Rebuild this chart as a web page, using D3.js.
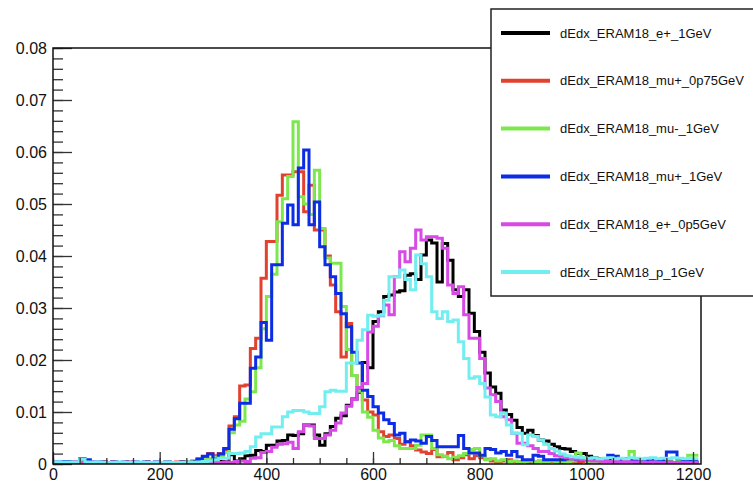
<!DOCTYPE html>
<html>
<head>
<meta charset="utf-8">
<script src="https://cdn.jsdelivr.net/npm/d3@7"></script>
<style>
  body { margin: 0; background: #fff; }
  text { font-family: "Liberation Sans", Arial, Helvetica, sans-serif; }
</style>
</head>
<body>
<div id="d3_chart"></div>
<script>
// bin contents in units of 1e-3, one value per 10-wide bin starting at 0
const binWidth = 10;

const eplus1GeV = [
  0, 0, 0, 0, 0, 0, 0.2, 0, 0, 0,
  0, 0.2, 0, 0, 0, 0, 0.3, 0, 0, 0,
  0, 0.2, 0, 0, 0.2, 0, 0, 0.3, 0, 0,
  0.2, 0.5, 0.4, 1.8, 0.6, 1.0, 1.6, 1.7, 2.6, 2.4,
  3.6, 3.6, 4.4, 4.5, 5.6, 5.5, 5.8, 7.5, 7.5, 5.6,
  3.6, 5.8, 7.2, 8.8, 9.3, 11.3, 12.5, 13.8, 19.5, 18.5,
  27.4, 29.3, 32.2, 32.5, 33.1, 33.3, 36.3, 36.6, 35.5, 40.2,
  43.1, 42.5, 35.0, 42.4, 39.2, 33.5, 32.2, 33.5, 29.0, 25.5,
  21.5, 17.5, 14.8, 13.6, 10.4, 9.5, 8.4, 7.0, 5.9, 6.5,
  5.5, 4.6, 4.4, 3.8, 3.3, 3.0, 2.9, 2.4, 2.0, 2.0,
  1.5, 1.2, 1.0, 1.0, 0.8, 0.8, 0.6, 1.0, 0.6, 0.5,
  0.5, 0.4, 0.5, 0.4, 0.3, 0.5, 0.3, 0.3, 0.4, 0.3, 0.3
];
const muplus0p75GeV = [
  0.3, 0.3, 0.5, 0.4, 0.3, 0.5, 0.4, 0.3, 0.3, 0.4,
  0.3, 0.4, 0.3, 0.3, 0.4, 0.3, 0.3, 0.4, 0.3, 0.3,
  0.3, 0.4, 0.3, 0.4, 0.5, 0.4, 0.6, 1.0, 1.4, 2.0,
  1.6, 2.0, 2.6, 7.3, 9.1, 15.0, 15.2, 22.2, 24.2, 35.7,
  42.8, 42.8, 51.7, 55.6, 55.6, 56.2, 56.2, 48.5, 53.6, 45.0,
  45.0, 40.0, 34.4, 29.3, 20.6, 27.0, 17.0, 14.5, 12.3, 10.0,
  9.4, 6.2, 5.3, 5.6, 4.9, 3.8, 4.3, 3.5, 2.7, 2.3,
  2.0, 2.8, 1.4, 1.5, 2.2, 0.8, 1.2, 1.8, 1.0, 1.6,
  1.2, 0.9, 0.6, 0.4, 0.6, 0.8, 0.5, 0.4, 0.6, 0.3,
  0.4, 0.6, 0.3, 0.5, 0.4, 0.3, 0.6, 0.4, 0.3, 0.5,
  0.3, 0.4, 0.3, 0.5, 0.4, 0.3, 0.6, 0.4, 0.7, 0.3,
  0.4, 0.3, 0.5, 0.3, 0.4, 0.3, 0.3, 0.4, 0.6, 0.3, 0.3
];
const muminus1GeV = [
  0.2, 0.3, 0.2, 0.3, 0.2, 0.3, 0.4, 0.3, 0.2, 0.3,
  0.3, 0.2, 0.3, 0.2, 0.3, 0.2, 0.3, 0.2, 0.3, 0.2,
  0.3, 0.2, 0.3, 0.3, 0.4, 0.3, 0.4, 0.5, 0.8, 1.0,
  1.3, 1.5, 2.2, 6.0, 7.5, 8.2, 12.5, 13.9, 18.5, 26.0,
  32.2, 36.5, 46.6, 51.0, 55.3, 65.8, 51.4, 50.0, 48.0, 56.5,
  45.3, 39.6, 38.6, 38.6, 30.3, 22.0, 17.0, 14.0, 10.0, 9.0,
  6.5, 5.0, 4.3, 4.5, 3.5, 3.0, 3.0, 3.0, 3.6, 5.6,
  5.6, 3.0, 1.8, 1.5, 1.0, 1.3, 1.6, 2.0, 2.8, 3.0,
  1.6, 0.8, 1.0, 0.6, 0.8, 0.5, 0.6, 0.4, 0.5, 0.6,
  0.4, 0.5, 0.3, 0.6, 0.4, 0.5, 0.4, 0.6, 2.1, 1.2,
  0.5, 0.4, 0.6, 0.3, 0.5, 0.4, 0.3, 0.5, 2.4, 0.6,
  0.4, 0.3, 0.5, 0.4, 0.3, 0.4, 0.3, 0.5, 0.4, 1.7, 1.7
];
const muplus1GeV = [
  0.4, 0.4, 0.5, 0.4, 0.4, 1.0, 0.8, 0.4, 0.4, 0.4,
  0.3, 0.4, 0.3, 0.4, 0.3, 0.4, 0.3, 0.4, 0.3, 0.4,
  0.3, 0.4, 0.3, 0.3, 0.4, 0.3, 0.4, 0.9, 1.5, 1.9,
  0.9, 1.9, 3.0, 6.7, 8.7, 11.7, 11.7, 18.4, 20.6, 27.2,
  23.8, 38.3, 38.3, 46.3, 49.8, 46.0, 56.9, 60.4, 46.0, 50.4,
  41.8, 38.3, 36.0, 32.8, 28.9, 26.4, 21.5, 19.4, 14.2, 13.0,
  11.0, 9.8, 8.5, 7.8, 5.6, 5.9, 4.3, 4.6, 4.4, 4.0,
  5.3, 4.5, 3.3, 3.3, 3.3, 3.3, 5.5, 3.0, 2.1, 2.1,
  1.7, 3.0, 2.8, 2.1, 2.4, 1.7, 2.4, 1.4, 0.8, 0.8,
  1.7, 1.5, 0.8, 0.8, 0.8, 0.8, 1.0, 1.0, 0.8, 0.8,
  0.8, 0.8, 0.8, 0.8, 1.7, 1.5, 0.8, 0.8, 0.8, 0.8,
  0.8, 0.8, 0.8, 0.8, 0.8, 2.3, 2.3, 1.0, 0.6, 0.5, 0.5
];
const eplus0p5GeV = [
  0.2, 0.3, 0.2, 0.3, 0.5, 0.3, 0.2, 0.2, 0.3, 0.2,
  0.2, 0.2, 0.3, 0.2, 0.2, 0.1, 0.2, 0.2, 0.2, 0.3,
  0.2, 0.2, 0.2, 0.3, 0.2, 0.2, 0.3, 0.2, 0.2, 0.3,
  0.3, 0.3, 0.4, 0.3, 0.5, 0.6, 0.5, 1.1, 1.2, 2.2,
  2.4, 3.2, 3.8, 3.9, 4.2, 3.0, 6.2, 7.5, 7.3, 4.9,
  4.9, 5.6, 6.5, 7.9, 9.8, 11.1, 12.4, 14.7, 15.5, 25.4,
  26.5, 28.5, 30.6, 28.7, 36.0, 40.8, 38.9, 41.5, 45.0, 43.1,
  43.7, 43.7, 43.4, 41.5, 34.4, 32.8, 34.1, 28.7, 24.2, 24.2,
  20.3, 14.6, 13.3, 12.0, 9.1, 8.5, 5.9, 4.0, 4.0, 3.5,
  3.0, 2.4, 2.4, 2.0, 1.6, 1.5, 1.2, 1.0, 0.9, 0.8,
  0.7, 0.6, 0.6, 0.5, 0.5, 0.5, 0.4, 0.5, 0.4, 0.4,
  0.4, 0.3, 0.4, 0.3, 0.3, 0.4, 0.3, 0.3, 0.3, 0.3, 0.3
];
const p1GeV = [
  0.4, 0.4, 0.4, 0.4, 0.4, 0.9, 0.4, 0.3, 0.4, 0.3,
  0.3, 0.3, 0.4, 0.3, 0.3, 0.3, 0.4, 0.3, 0.3, 0.3,
  0.3, 0.4, 0.3, 0.3, 0.3, 0.4, 0.3, 0.4, 0.5, 0.6,
  0.8, 1.1, 1.1, 2.0, 2.0, 2.1, 2.4, 3.3, 5.2, 5.8,
  5.8, 7.1, 7.1, 9.1, 10.0, 10.3, 10.3, 10.0, 9.7, 9.7,
  11.0, 13.9, 14.2, 14.0, 14.0, 19.4, 19.4, 23.8, 25.8, 28.6,
  28.4, 28.6, 31.5, 36.0, 36.0, 37.3, 35.5, 33.5, 40.2, 38.5,
  36.0, 29.3, 28.0, 29.3, 27.4, 27.7, 23.5, 20.3, 16.5, 16.8,
  15.5, 12.9, 9.4, 9.1, 9.8, 7.5, 5.9, 5.9, 3.7, 5.6,
  5.3, 4.6, 3.8, 3.0, 2.5, 1.9, 1.6, 1.4, 1.3, 1.2,
  1.1, 1.2, 1.0, 1.1, 1.2, 1.0, 1.1, 1.0, 1.2, 1.1,
  1.0, 1.1, 1.2, 1.0, 1.1, 1.0, 1.2, 1.1, 1.0, 1.1, 1.0
];

const seriesNames = [
  "dEdx_ERAM18_e+_1GeV",
  "dEdx_ERAM18_mu+_0p75GeV",
  "dEdx_ERAM18_mu-_1GeV",
  "dEdx_ERAM18_mu+_1GeV",
  "dEdx_ERAM18_e+_0p5GeV",
  "dEdx_ERAM18_p_1GeV"
];
const seriesValues = [eplus1GeV, muplus0p75GeV, muminus1GeV, muplus1GeV, eplus0p5GeV, p1GeV];
const seriesColors = ["#000000", "#e2412f", "#7ce84e", "#0c2ce6", "#d84ae6", "#72eef0"];

const xTickValues = [0, 200, 400, 600, 800, 1000, 1200];
const xTickLabels = ["0", "200", "400", "600", "800", "1000", "1200"];
const yTickValues = [0, 0.01, 0.02, 0.03, 0.04, 0.05, 0.06, 0.07, 0.08];
const yTickLabels = ["0", "0.01", "0.02", "0.03", "0.04", "0.05", "0.06", "0.07", "0.08"];

// frame of the pad
const frame = { left: 53, right: 701, top: 48, bottom: 464 };

var svg = d3.select("#d3_chart")
    .append("svg")
    .attr("width", 753)
    .attr("height", 482)
    .style("display", "block");

svg.append("rect")
    .attr("width", 753).attr("height", 482)
    .attr("fill", "#ffffff");

var x = d3.scaleLinear()
    .domain([0, 1215])
    .range([frame.left, frame.right]);
var y = d3.scaleLinear()
    .domain([0, 0.08])
    .range([frame.bottom, frame.top]);

svg.append("clipPath").attr("id", "plotclip")
    .append("rect")
    .attr("x", frame.left).attr("y", frame.top)
    .attr("width", frame.right - frame.left)
    .attr("height", frame.bottom - frame.top);

// step histograms, drawn in legend order
var line = d3.line()
    .x(function (d) { return x(d[0]); })
    .y(function (d) { return y(d[1]); })
    .curve(d3.curveStepAfter);

seriesValues.forEach(function (vals, s) {
    var pts = vals.map(function (v, i) { return [i * binWidth, v / 1000]; });
    pts.push([vals.length * binWidth, vals[vals.length - 1] / 1000]);
    svg.append("path")
        .attr("clip-path", "url(#plotclip)")
        .attr("d", line(pts))
        .attr("fill", "none")
        .attr("stroke", seriesColors[s])
        .attr("stroke-width", 3)
        .attr("stroke-linejoin", "miter");
});

// axes, ROOT style ticks pointing inside
var minorX = d3.range(0, 1201, 50);
var minorY = d3.range(0, 0.0801, 0.002);

svg.append("g")
    .attr("transform", "translate(0," + frame.bottom + ")")
    .call(d3.axisBottom(x).tickValues(minorX).tickSize(-6).tickFormat(""))
    .call(function (g) { g.select(".domain").remove(); });
svg.append("g")
    .attr("class", "xaxis")
    .attr("transform", "translate(0," + frame.bottom + ")")
    .call(d3.axisBottom(x).tickValues(xTickValues).tickSizeInner(-12).tickSizeOuter(0).tickPadding(5)
        .tickFormat(function (d, i) { return xTickLabels[i]; }))
    .call(function (g) { g.select(".domain").remove(); });

svg.append("g")
    .attr("transform", "translate(" + frame.left + ",0)")
    .call(d3.axisLeft(y).tickValues(minorY).tickSize(-10).tickFormat(""))
    .call(function (g) { g.select(".domain").remove(); });
svg.append("g")
    .attr("class", "yaxis")
    .attr("transform", "translate(" + frame.left + ",0)")
    .call(d3.axisLeft(y).tickValues(yTickValues).tickSizeInner(-19).tickSizeOuter(0).tickPadding(6)
        .tickFormat(function (d, i) { return yTickLabels[i]; }))
    .call(function (g) { g.select(".domain").remove(); });

svg.selectAll(".tick line").attr("stroke", "#333").attr("stroke-width", 1.3);
svg.selectAll(".tick text")
    .attr("fill", "#111")
    .style("font-size", "16px")
    .style("font-family", "'Liberation Sans', Arial, sans-serif");

svg.append("rect")
    .attr("x", frame.left).attr("y", frame.top)
    .attr("width", frame.right - frame.left)
    .attr("height", frame.bottom - frame.top)
    .attr("fill", "none")
    .attr("stroke", "#111")
    .attr("stroke-width", 1.5);

// legend box, runs off the right edge
var legend = svg.append("g");
legend.append("rect")
    .attr("x", 491).attr("y", 9)
    .attr("width", 280).attr("height", 287)
    .attr("fill", "#ffffff")
    .attr("stroke", "#222")
    .attr("stroke-width", 1.5);

seriesNames.forEach(function (name, i) {
    var ly = 33 + i * 47.8;
    legend.append("line")
        .attr("x1", 501).attr("x2", 550)
        .attr("y1", ly).attr("y2", ly)
        .attr("stroke", seriesColors[i])
        .attr("stroke-width", 4);
    legend.append("text")
        .attr("x", 560).attr("y", ly)
        .attr("dy", "0.35em")
        .attr("fill", "#111")
        .style("font-size", "13px")
        .text(name);
});
</script>
</body>
</html>
